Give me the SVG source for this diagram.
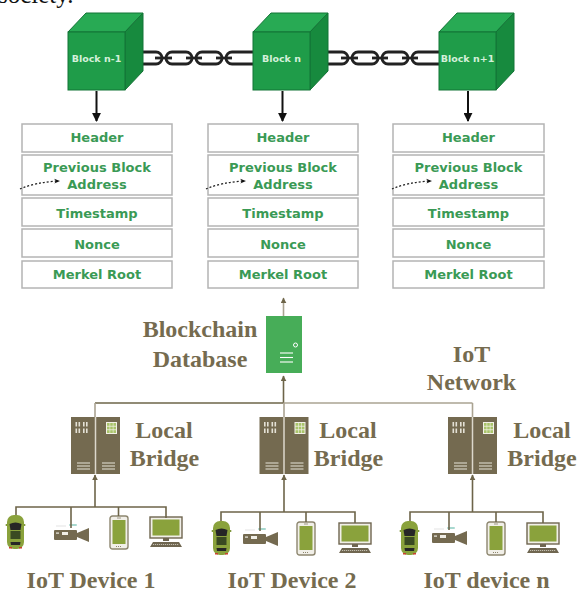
<svg xmlns="http://www.w3.org/2000/svg" width="579" height="592" viewBox="0 0 579 592">
  <style>
    .cap { font-family: "Liberation Serif", "Times New Roman", serif; font-weight: bold; font-size: 24px; fill: #756b4f; text-anchor: middle; }
    .cell { fill: #ffffff; stroke: #b4b4b4; stroke-width: 1.5; }
    .cellText { font-family: "DejaVu Sans", "Noto Sans", sans-serif; font-weight: bold; font-size: 13px; fill: #3a9a55; text-anchor: middle; }
    .blockText { font-family: "DejaVu Sans", "Noto Sans", sans-serif; font-weight: bold; font-size: 9.5px; fill: #d4f0da; text-anchor: middle; }
    .front { fill: #1f9c49; stroke: #137436; stroke-width: 1; }
    .top { fill: #28aa54; stroke: #137436; stroke-width: 1; }
    .side { fill: #178a3e; stroke: #137436; stroke-width: 1; }
    .link { fill: none; stroke: #222222; stroke-width: 2.8; }
    .down { stroke: #111111; stroke-width: 2; fill: none; }
    .dotted { stroke: #222222; stroke-width: 1.3; stroke-dasharray: 2 2; fill: none; }
    .wire { stroke: #6d6449; stroke-width: 1.6; fill: none; }
    .wireLight { stroke: #aaa392; stroke-width: 1.6; fill: none; }
  </style>
  <defs>
    <marker id="headBlack" viewBox="0 0 10 10" refX="9" refY="5" markerWidth="9" markerHeight="9" markerUnits="userSpaceOnUse" orient="auto">
      <path d="M0,0 L10,5 L0,10 Z" fill="#111111"/>
    </marker>
    <marker id="headDot" viewBox="0 0 10 10" refX="8" refY="5" markerWidth="6" markerHeight="6" markerUnits="userSpaceOnUse" orient="auto">
      <path d="M0,1 L10,5 L0,9 L3,5 Z" fill="#111111"/>
    </marker>
    <marker id="headOlive" viewBox="0 0 10 10" refX="9" refY="5" markerWidth="6" markerHeight="6" markerUnits="userSpaceOnUse" orient="auto">
      <path d="M0,0 L10,5 L0,10 Z" fill="#6d6449"/>
    </marker>

    <!-- rack server used for the local bridges -->
    <g id="rack">
      <rect x="0" y="0" width="49" height="57" fill="#746a50"/>
      <line x1="24.5" y1="0" x2="24.5" y2="57" stroke="#dcd8cc" stroke-width="1.5"/>
      <g fill="#e4e1d6">
        <rect x="4.5" y="5" width="1.6" height="4.5"/><rect x="7.5" y="5" width="1.6" height="4.5"/>
        <rect x="12" y="5" width="1.6" height="4.5"/><rect x="15" y="5" width="1.6" height="4.5"/>
        <rect x="4.5" y="11.5" width="1.6" height="4.5"/><rect x="7.5" y="11.5" width="1.6" height="4.5"/>
        <rect x="12" y="11.5" width="1.6" height="4.5"/><rect x="15" y="11.5" width="1.6" height="4.5"/>
      </g>
      <rect x="35" y="5" width="11" height="12" fill="#f2f0e6"/>
      <g fill="#a9c46a">
        <rect x="36" y="6" width="2.6" height="2.8"/><rect x="39.2" y="6" width="2.6" height="2.8"/><rect x="42.4" y="6" width="2.6" height="2.8"/>
        <rect x="36" y="9.6" width="2.6" height="2.8"/><rect x="39.2" y="9.6" width="2.6" height="2.8"/><rect x="42.4" y="9.6" width="2.6" height="2.8"/>
        <rect x="36" y="13.2" width="2.6" height="2.8"/><rect x="39.2" y="13.2" width="2.6" height="2.8"/><rect x="42.4" y="13.2" width="2.6" height="2.8"/>
      </g>
      <g stroke="#d4d0c2" stroke-width="1.2">
        <line x1="6" y1="46" x2="19" y2="46"/><line x1="6" y1="49" x2="19" y2="49"/><line x1="6" y1="52" x2="19" y2="52"/>
        <line x1="31" y1="46" x2="44" y2="46"/><line x1="31" y1="49" x2="44" y2="49"/><line x1="31" y1="52" x2="44" y2="52"/>
      </g>
    </g>

    <!-- top-down car -->
    <g id="car">
      <rect x="-1.5" y="9" width="20" height="2" rx="1" fill="#7b9436"/>
      <rect x="0" y="0" width="17" height="34" rx="7" fill="#8aa23c"/>
      <path d="M2.5,9 Q8.5,6 14.5,9 L13.5,15 L3.5,15 Z" fill="#262626"/>
      <rect x="3.5" y="16" width="10" height="8" fill="#3a4a22"/>
      <path d="M3.5,27 L13.5,27 L13,30 L4,30 Z" fill="#262626"/>
      <rect x="2" y="32" width="3" height="1.5" fill="#c8412e"/>
      <rect x="12" y="32" width="3" height="1.5" fill="#c8412e"/>
    </g>

    <!-- video camera -->
    <g id="camera">
      <rect x="0" y="3" width="23" height="10" rx="1" fill="#746a50"/>
      <path d="M23,6 L35,1 L35,15 L23,10 Z" fill="#746a50"/>
      <rect x="8" y="5" width="6" height="3" fill="#f0eee6"/>
      <rect x="2" y="5.5" width="3" height="1.2" fill="#f0eee6"/>
      <rect x="15" y="-3" width="8" height="2" rx="1" fill="#a8d8cf"/>
      <line x1="2" y1="-1" x2="12" y2="-1" stroke="#dcdcdc" stroke-width="0.8"/>
    </g>

    <!-- handset -->
    <g id="phone">
      <rect x="0" y="0" width="18" height="33" rx="2.5" fill="#f1efe8" stroke="#8d866f" stroke-width="1.4"/>
      <rect x="2.5" y="4" width="13" height="24" fill="#8aa23c"/>
      <line x1="7" y1="2" x2="11" y2="2" stroke="#8d866f" stroke-width="0.8"/>
      <line x1="6" y1="30.5" x2="12" y2="30.5" stroke="#8d866f" stroke-width="1" stroke-dasharray="1 1"/>
    </g>

    <!-- desktop monitor with keyboard -->
    <g id="monitor">
      <rect x="0" y="0" width="32" height="21" fill="#f1efe8" stroke="#6f6650" stroke-width="1.4"/>
      <rect x="2.5" y="2.5" width="27" height="16" fill="#8aa23c"/>
      <rect x="13" y="21" width="6" height="3" fill="#6f6650"/>
      <path d="M3,25 L29,25 L32,30 L0,30 Z" fill="#6f6650"/>
      <line x1="3" y1="27.5" x2="29" y2="27.5" stroke="#d8d4c6" stroke-width="0.8" stroke-dasharray="1.2 0.8"/>
    </g>
  </defs>

  <rect width="579" height="592" fill="#ffffff"/>

  <!-- tail of the running text line above the figure -->
  <text x="-2" y="3" font-family="Liberation Serif, Times New Roman, serif" font-size="25" fill="#111111">society.</text>

  <!-- chains between the blocks -->
  <g id="chains">
    <rect class="link" x="130" y="52" width="32" height="12" rx="6"/>
    <rect class="link" x="166" y="52" width="26" height="12" rx="6"/>
    <rect class="link" x="196" y="52" width="26" height="12" rx="6"/>
    <rect class="link" x="226" y="52" width="36" height="12" rx="6"/>
    <line class="link" x1="155" y1="58" x2="172" y2="58"/>
    <line class="link" x1="186" y1="58" x2="202" y2="58"/>
    <line class="link" x1="216" y1="58" x2="232" y2="58"/>

    <rect class="link" x="316" y="52" width="32" height="12" rx="6"/>
    <rect class="link" x="352" y="52" width="26" height="12" rx="6"/>
    <rect class="link" x="382" y="52" width="26" height="12" rx="6"/>
    <rect class="link" x="412" y="52" width="36" height="12" rx="6"/>
    <line class="link" x1="341" y1="58" x2="358" y2="58"/>
    <line class="link" x1="372" y1="58" x2="388" y2="58"/>
    <line class="link" x1="402" y1="58" x2="418" y2="58"/>
  </g>

  <!-- blocks -->
  <g id="block-n-1">
    <polygon class="top" points="68,32 86,13 143,13 125,32"/>
    <polygon class="side" points="125,32 143,13 143,71 125,90"/>
    <rect class="front" x="68" y="32" width="57" height="58"/>
    <text class="blockText" x="96.5" y="61.5">Block n-1</text>
  </g>
  <g id="block-n">
    <polygon class="top" points="253,32 271,13 328,13 310,32"/>
    <polygon class="side" points="310,32 328,13 328,71 310,90"/>
    <rect class="front" x="253" y="32" width="57" height="58"/>
    <text class="blockText" x="281.5" y="61.5">Block n</text>
  </g>
  <g id="block-n1">
    <polygon class="top" points="439,32 457,13 514,13 496,32"/>
    <polygon class="side" points="496,32 514,13 514,71 496,90"/>
    <rect class="front" x="439" y="32" width="57" height="58"/>
    <text class="blockText" x="467.5" y="61.5">Block n+1</text>
  </g>

  <!-- block contents -->
  <g id="fields-n-1">
    <rect class="cell" x="22" y="124" width="150" height="28"/>
    <rect class="cell" x="22" y="155" width="150" height="40"/>
    <rect class="cell" x="22" y="198" width="150" height="28"/>
    <rect class="cell" x="22" y="229" width="150" height="28"/>
    <rect class="cell" x="22" y="261" width="150" height="27"/>
    <text class="cellText" x="97" y="142">Header</text>
    <text class="cellText" x="97" y="171.5">Previous Block</text>
    <text class="cellText" x="97" y="188.5">Address</text>
    <text class="cellText" x="97" y="217.5">Timestamp</text>
    <text class="cellText" x="97" y="248.5">Nonce</text>
    <text class="cellText" x="97" y="279">Merkel Root</text>
  </g>
  <g id="fields-n">
    <rect class="cell" x="208" y="124" width="150" height="28"/>
    <rect class="cell" x="208" y="155" width="150" height="40"/>
    <rect class="cell" x="208" y="198" width="150" height="28"/>
    <rect class="cell" x="208" y="229" width="150" height="28"/>
    <rect class="cell" x="208" y="261" width="150" height="27"/>
    <text class="cellText" x="283" y="142">Header</text>
    <text class="cellText" x="283" y="171.5">Previous Block</text>
    <text class="cellText" x="283" y="188.5">Address</text>
    <text class="cellText" x="283" y="217.5">Timestamp</text>
    <text class="cellText" x="283" y="248.5">Nonce</text>
    <text class="cellText" x="283" y="279">Merkel Root</text>
  </g>
  <g id="fields-n1">
    <rect class="cell" x="393" y="124" width="151" height="28"/>
    <rect class="cell" x="393" y="155" width="151" height="40"/>
    <rect class="cell" x="393" y="198" width="151" height="28"/>
    <rect class="cell" x="393" y="229" width="151" height="28"/>
    <rect class="cell" x="393" y="261" width="151" height="27"/>
    <text class="cellText" x="468.5" y="142">Header</text>
    <text class="cellText" x="468.5" y="171.5">Previous Block</text>
    <text class="cellText" x="468.5" y="188.5">Address</text>
    <text class="cellText" x="468.5" y="217.5">Timestamp</text>
    <text class="cellText" x="468.5" y="248.5">Nonce</text>
    <text class="cellText" x="468.5" y="279">Merkel Root</text>
  </g>

  <!-- blockchain database server -->
  <g id="database">
    <rect x="266" y="316" width="36" height="57" fill="#47ad58"/>
    <circle cx="295.5" cy="345" r="2" fill="none" stroke="#ffffff" stroke-width="1"/>
    <g stroke="#ffffff" stroke-width="1.1">
      <line x1="280" y1="353" x2="293" y2="353"/>
      <line x1="280" y1="357.5" x2="293" y2="357.5"/>
      <line x1="280" y1="362" x2="293" y2="362"/>
    </g>
    <text class="cap" x="200" y="337">Blockchain</text>
    <text class="cap" x="200" y="367">Database</text>
  </g>

  <g id="network-label">
    <text class="cap" x="471.5" y="362">IoT</text>
    <text class="cap" x="471.5" y="390">Network</text>
  </g>

  <!-- local bridges -->
  <g id="bridge-1">
    <use href="#rack" x="71" y="417"/>
    <text class="cap" x="164" y="438">Local</text>
    <text class="cap" x="164.5" y="466">Bridge</text>
  </g>
  <g id="bridge-2">
    <use href="#rack" x="259.5" y="417"/>
    <text class="cap" x="348" y="438">Local</text>
    <text class="cap" x="348.5" y="466">Bridge</text>
  </g>
  <g id="bridge-3">
    <use href="#rack" x="448" y="417"/>
    <text class="cap" x="542" y="438">Local</text>
    <text class="cap" x="542" y="466">Bridge</text>
  </g>

  <!-- device groups -->
  <g id="devices-1">
    <use href="#car" x="7" y="515"/>
    <use href="#camera" x="54" y="527"/>
    <use href="#phone" x="110" y="516"/>
    <use href="#monitor" x="150" y="517"/>
    <text class="cap" x="91" y="588">IoT Device 1</text>
  </g>
  <g id="devices-2">
    <use href="#car" x="213" y="521"/>
    <use href="#camera" x="243" y="531"/>
    <use href="#phone" x="297" y="522"/>
    <use href="#monitor" x="339" y="523"/>
    <text class="cap" x="292" y="588">IoT Device 2</text>
  </g>
  <g id="devices-n">
    <use href="#car" x="401" y="521"/>
    <use href="#camera" x="432" y="530"/>
    <use href="#phone" x="487" y="522"/>
    <use href="#monitor" x="527" y="523"/>
    <text class="cap" x="486.5" y="588">IoT device n</text>
  </g>

  <!-- connectors -->
  <g id="connectors">
    <line class="down" x1="96.5" y1="91" x2="96.5" y2="121" marker-end="url(#headBlack)"/>
    <line class="down" x1="282.5" y1="91" x2="282.5" y2="121" marker-end="url(#headBlack)"/>
    <line class="down" x1="468" y1="91" x2="468" y2="121" marker-end="url(#headBlack)"/>

    <path class="dotted" d="M20,189 Q36,182 59,181" marker-end="url(#headDot)"/>
    <path class="dotted" d="M206,189 Q222,182 245,181" marker-end="url(#headDot)"/>
    <path class="dotted" d="M392,189 Q408,182 431,181" marker-end="url(#headDot)"/>

    <!-- database to chain -->
    <line class="wireLight" x1="283.5" y1="316" x2="283.5" y2="298" marker-end="url(#headOlive)"/>
    <!-- network bus to database -->
    <line class="wire" x1="283.5" y1="403" x2="283.5" y2="376" marker-end="url(#headOlive)"/>
    <line class="wire" x1="95" y1="403" x2="283.5" y2="403"/>
    <line class="wireLight" x1="283.5" y1="403" x2="472.5" y2="403"/>
    <line class="wireLight" x1="95" y1="403" x2="95" y2="417"/>
    <line class="wireLight" x1="284" y1="403" x2="284" y2="417"/>
    <line class="wireLight" x1="472.5" y1="403" x2="472.5" y2="417"/>

    <!-- device buses to bridges -->
    <line class="wire" x1="95" y1="507" x2="95" y2="475" marker-end="url(#headOlive)"/>
    <polyline class="wire" points="16,515 16,507 166,507 166,518"/>
    <line class="wire" x1="71" y1="507" x2="71" y2="528"/>
    <line class="wire" x1="118.5" y1="507" x2="118.5" y2="516"/>

    <line class="wire" x1="284" y1="512" x2="284" y2="475" marker-end="url(#headOlive)"/>
    <polyline class="wire" points="221,521 221,512 355,512 355,523"/>
    <line class="wire" x1="260" y1="512" x2="260" y2="531"/>
    <line class="wire" x1="306" y1="512" x2="306" y2="522"/>

    <line class="wire" x1="472.5" y1="512" x2="472.5" y2="475" marker-end="url(#headOlive)"/>
    <polyline class="wire" points="410,521 410,512 543,512 543,523"/>
    <line class="wire" x1="449" y1="512" x2="449" y2="530"/>
    <line class="wire" x1="496" y1="512" x2="496" y2="522"/>
  </g>
</svg>
